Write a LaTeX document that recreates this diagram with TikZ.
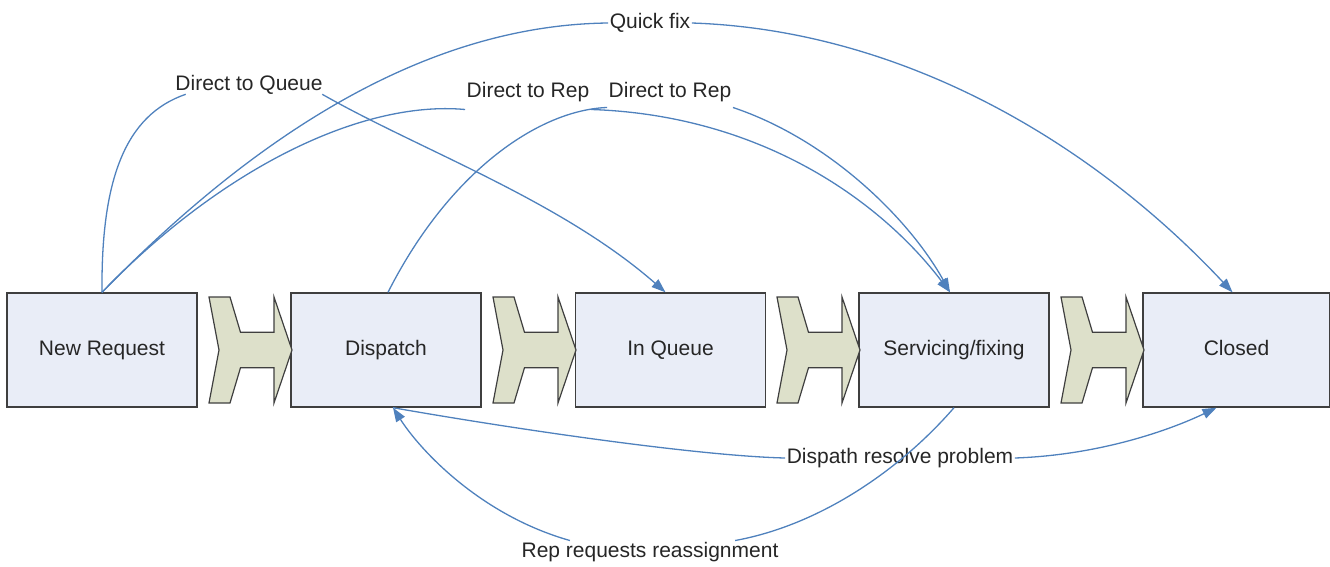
\documentclass[tikz,border=0pt]{standalone}
\usepackage{fontspec}
\setmainfont{Liberation Sans}
\usetikzlibrary{arrows.meta}
\definecolor{boxfill}{HTML}{E9EDF7}
\definecolor{boxline}{HTML}{3F3F3F}
\definecolor{chevfill}{HTML}{DDE0CA}
\definecolor{flow}{HTML}{4F81BD}
\definecolor{txt}{HTML}{262626}
\tikzset{
  stagebox/.style={draw=boxline, line width=1.4pt, fill=boxfill, minimum width=190pt, minimum height=114pt, inner sep=0pt, text height=15pt, text depth=4pt, font=\fontsize{21}{25}\selectfont, text=txt},
  lbl/.style={inner sep=1.5pt, font=\fontsize{21}{25}\selectfont, text=txt},
  conn/.style={draw=flow, line width=1.3pt},
  arr/.style={conn, -{Triangle[length=14pt,width=10pt]}},
  chev/.style={draw=boxline, line width=1.2pt, fill=chevfill, line join=miter},
}
\begin{document}
\begin{tikzpicture}[x=1pt,y=-1pt]
\useasboundingbox (0,0) rectangle (1330,566);
% stage boxes
\node[stagebox] (n1) at (102,350) {New Request};
\node[stagebox] (n2) at (386,350) {Dispatch};
\node[stagebox] (n3) at (670.5,350) {In Queue};
\node[stagebox] (n4) at (954,350) {Servicing/fixing};
\node[stagebox, minimum width=187pt] (n5) at (1236.5,350) {Closed};
% chevrons
\foreach \x in {209,493,777,1061}{
  \draw[chev] (\x,297) -- ++(21,0) -- ++(10.5,35.3) -- ++(33.5,0) -- ++(0,-35.3)
     -- ++(18,53) -- ++(-18,53) -- ++(0,-35.3) -- ++(-33.5,0) -- ++(-10.5,35.3)
     -- ++(-21,0) -- ++(10,-53) -- cycle;
}
% labels
\node[lbl] (dq)  at (249,85) {Direct to Queue};
\node[lbl] (qf)  at (650,23) {Quick fix};
\node[lbl] (dr1) at (528,92) {Direct to Rep};
\node[lbl] (dr2) at (670,92) {Direct to Rep};
\node[lbl] (dp)  at (900,458) {Dispath resolve problem};
\node[lbl] (rr)  at (650,552) {Rep requests reassignment};
% Direct to Queue
\draw[conn] (n1.north) .. controls (101,180) and (125,115) .. ([xshift=12pt,yshift=2pt]dq.south west);
\draw[arr] ([xshift=-2pt,yshift=2pt]dq.south east) .. controls (420,150) and (560,200) .. ([xshift=-5pt]n3.north);
% Quick fix
\draw[conn] (n1.north) .. controls (260,130) and (430,25) .. (qf.west);
\draw[arr] (qf.east) .. controls (900,30) and (1090,140) .. ([xshift=-4pt]n5.north);
% Direct to Rep 1
\draw[conn] (n1.north) .. controls (220,170) and (360,100) .. ([yshift=-6pt]dr1.south west);
\draw[arr] ([yshift=-6pt]dr1.south east) .. controls (760,115) and (880,200) .. ([xshift=-4pt]n4.north);
% Direct to Rep 2
\draw[conn] ([xshift=2pt]n2.north) .. controls (450,170) and (540,110) .. ([yshift=-4pt]dr2.south west);
\draw[arr] ([yshift=-4pt]dr2.south east) .. controls (830,140) and (910,220) .. ([xshift=-4pt]n4.north);
% Dispath resolve problem
\draw[conn] ([xshift=7pt]n2.south) .. controls (520,430) and (700,456) .. (dp.west);
\draw[arr] (dp.east) .. controls (1100,455) and (1170,430) .. ([xshift=-20pt]n5.south);
% Rep requests reassignment
\draw[conn] (n4.south) .. controls (900,470) and (820,525) .. ([xshift=-45pt]rr.north east);
\draw[arr] ([xshift=50pt]rr.north west) .. controls (480,515) and (420,450) .. ([xshift=7pt]n2.south);
\end{tikzpicture}
\end{document}
